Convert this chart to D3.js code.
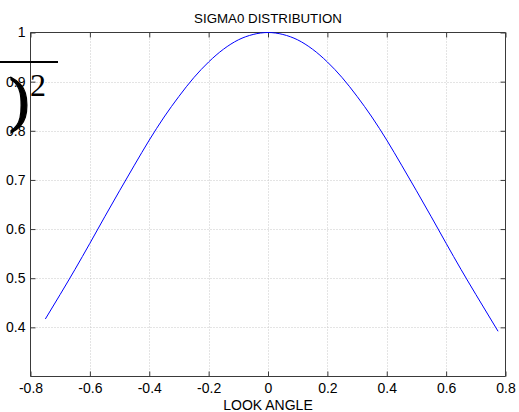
<!DOCTYPE html>
<html>
<head>
<meta charset="utf-8">
<script src="https://cdn.jsdelivr.net/npm/d3@7"></script>
<style>
  html, body { margin: 0; padding: 0; background: #fff; }
  svg { display: block; }
</style>
</head>
<body>
<svg id="chart" width="519" height="412"></svg>
<script>
// Look angle samples and normalised sigma0 response
const lookAngle = [-0.75, -0.70, -0.65, -0.60, -0.55, -0.50, -0.45, -0.40, -0.35, -0.30,
                   -0.25, -0.20, -0.15, -0.10, -0.05, 0.00, 0.05, 0.10, 0.15, 0.20,
                   0.25, 0.30, 0.35, 0.40, 0.45, 0.50, 0.55, 0.60, 0.65, 0.70, 0.75, 0.775];
const sigma0 = [0.417, 0.467, 0.518, 0.571, 0.625, 0.678, 0.730, 0.781, 0.828, 0.870,
                0.908, 0.940, 0.966, 0.985, 0.996, 1.000, 0.996, 0.985, 0.966, 0.940,
                0.908, 0.870, 0.828, 0.781, 0.730, 0.678, 0.625, 0.571, 0.518, 0.467, 0.417, 0.392];

const xTicks = [-0.8, -0.6, -0.4, -0.2, 0, 0.2, 0.4, 0.6, 0.8];
const yTicks = [0.4, 0.5, 0.6, 0.7, 0.8, 0.9, 1];
const xDomain = [-0.8, 0.8];
const yDomain = [0.3, 1];

const titleText = "SIGMA0 DISTRIBUTION";
const xLabelText = "LOOK ANGLE";

const svg = d3.select("#chart");
const L = 30.5, R = 505.5, T = 32.5, B = 376.5;
const axisColor = "#3a3a3a";
const font = "'Liberation Sans', Arial, Helvetica, sans-serif";

const x = d3.scaleLinear().domain(xDomain).range([L, R]);
const y = d3.scaleLinear().domain(yDomain).range([B, T]);

// dotted grid
const grid = svg.append("g").attr("stroke", "#c8c8c8").attr("stroke-width", 1)
  .attr("stroke-dasharray", "1,2");
grid.selectAll(".gx").data(xTicks.filter(d => d > xDomain[0] && d < xDomain[1])).enter()
  .append("line").attr("x1", d => Math.round(x(d)) + 0.5).attr("x2", d => Math.round(x(d)) + 0.5)
  .attr("y1", T).attr("y2", B);
grid.selectAll(".gy").data(yTicks.filter(d => d < yDomain[1])).enter()
  .append("line").attr("y1", d => Math.round(y(d)) + 0.5).attr("y2", d => Math.round(y(d)) + 0.5)
  .attr("x1", L).attr("x2", R);

// axes with inward ticks on all four sides
const tickLen = 5;
const bottomAxis = d3.axisBottom(x).tickValues(xTicks).tickSize(-tickLen).tickPadding(7)
  .tickFormat(d => String(+d.toFixed(1)));
const topAxis = d3.axisTop(x).tickValues(xTicks).tickSize(-tickLen).tickFormat("");
const leftAxis = d3.axisLeft(y).tickValues(yTicks).tickSize(-tickLen).tickPadding(5)
  .tickFormat(d => String(+d.toFixed(1)));
const rightAxis = d3.axisRight(y).tickValues(yTicks).tickSize(-tickLen).tickFormat("");

function styleAxis(g) {
  g.select(".domain").attr("stroke", axisColor);
  g.selectAll(".tick line").attr("stroke", axisColor);
  g.selectAll(".tick text").attr("fill", "#000").attr("font-family", font).attr("font-size", 14);
}
svg.append("g").attr("transform", `translate(0,${B})`).call(bottomAxis).call(styleAxis)
  .call(g => g.select(".domain").attr("d", `M${L},0H${R}`));
svg.append("g").attr("transform", `translate(0,${T})`).call(topAxis).call(styleAxis)
  .call(g => g.select(".domain").attr("d", `M${L},0H${R}`));
svg.append("g").attr("transform", `translate(${L},0)`).call(leftAxis).call(styleAxis)
  .call(g => g.select(".domain").attr("d", `M0,${B}V${T}`));
svg.append("g").attr("transform", `translate(${R},0)`).call(rightAxis).call(styleAxis)
  .call(g => g.select(".domain").attr("d", `M0,${B}V${T}`));

// curve
const pts = lookAngle.map((a, i) => [a, sigma0[i]]);
svg.append("path").datum(pts)
  .attr("fill", "none").attr("stroke", "#0000ff").attr("stroke-width", 1)
  .attr("d", d3.line().x(d => x(d[0])).y(d => y(d[1])).curve(d3.curveMonotoneX));

// title and axis label
svg.append("text").attr("x", (L + R) / 2).attr("y", 23).attr("text-anchor", "middle")
  .attr("font-family", font).attr("font-size", 13.3).text(titleText);
svg.append("text").attr("x", (L + R) / 2).attr("y", 410).attr("text-anchor", "middle")
  .attr("font-family", font).attr("font-size", 14).text(xLabelText);

// equation fragment in the upper-left corner
const eq = svg.append("g").attr("fill", "#000");
eq.append("line").attr("x1", 0).attr("x2", 58).attr("y1", 62).attr("y2", 62)
  .attr("stroke", "#000").attr("stroke-width", 2);
eq.append("text").attr("x", 9).attr("y", 120)
  .attr("font-family", "'Liberation Serif', 'Times New Roman', serif").attr("font-size", 62)
  .attr("stroke", "#000").attr("stroke-width", 1.2)
  .text(")");
eq.append("text").attr("x", 30).attr("y", 96)
  .attr("font-family", "'Liberation Serif', 'Times New Roman', serif").attr("font-size", 32)
  .text("2");
</script>
</body>
</html>
